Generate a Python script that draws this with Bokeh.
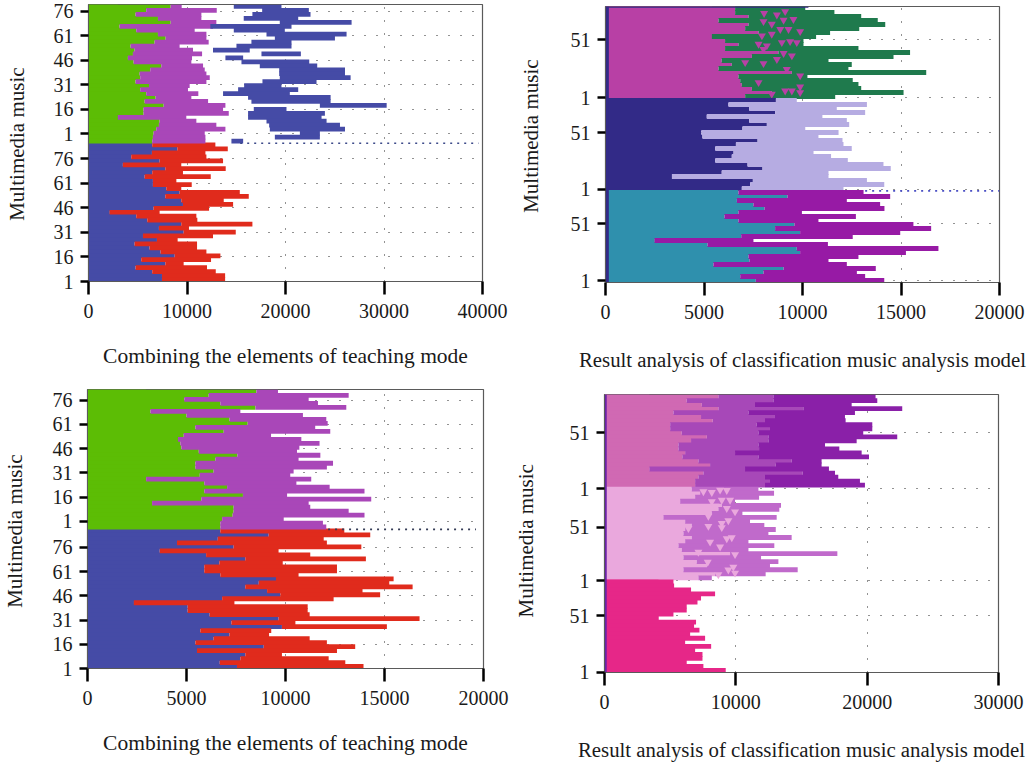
from bokeh.embed import file_html
from bokeh.resources import INLINE
from bokeh.plotting import figure
from bokeh.models import Title, FixedTicker, ColumnDataSource

FONT = "Liberation Serif"
Y_TITLE = "Multimedia music"
TITLE_A = "Combining the elements of teaching mode"
TITLE_B = "Result analysis of classification music analysis model"
LABELS_SIX = ["1", "16", "31", "46", "61", "76"]
LABELS_TWO = ["1", "51"]

# Panel A (top-left) values, rows listed top to bottom
a_green = [8340,5860,4780,7050,8340,3150,4850,7050,7830,6710,4270,4680,4510,4000,4580,7390,6270,5190,5250,4780,6140,5250,5860,6810,5700,7630,5590,5590,2980,7220,7150,6880,6610,6540,6470]
a_purple = [9460,13020,11460,11460,12980,12640,10780,11970,11970,12200,9250,10610,11530,10510,10440,11630,11800,11970,12310,11970,10270,10100,11150,10440,12140,13900,13660,14240,9930,10950,12980,13900,11800,11870,11870]
a_blue_start = [14750,17630,16640,15760,19420,12370,14750,18070,18920,16540,15020,12640,17560,13900,15530,17390,19360,19360,19420,17660,15800,15190,13660,16200,16540,23490,16780,16200,16200,18070,18340,18410,21460,18920,14510]
a_blue_end = [19590,22370,22540,21290,26710,20610,19930,26200,25020,20610,20610,16370,21560,15700,22410,23220,26040,26040,26610,23150,19590,21290,20440,24580,24580,30270,20100,24000,23660,24170,25530,26040,23490,23490,15700]
a_low_blue = [6470,9020,6440,4340,7220,3490,7800,6470,5700,6540,6540,7900,9250,7800,9420,9590,6610,2140,4850,5970,9420,7150,9660,5530,6950,4680,6200,7320,8750,5360,7800,4780,6470,7460,7460]
a_low_red = [12880,14140,11870,11970,13660,9420,13930,9590,12410,8920,10480,9420,15360,16270,13730,14680,12240,7220,10950,11050,16640,10200,14950,12640,9050,11020,11020,11970,13390,12440,9660,12030,12920,13870,13870]
a_seam = [15400, 39600]

# Panel B (top-right)
b_magenta = [6580,6580,7260,5740,7260,7090,7770,5400,6070,6750,6070,8780,7430,5900,6410,5740,9460,6750,6840,6920,7430,8440,7090]
b_green = [10140,11620,12980,13820,14200,12880,11400,10690,10050,10050,12840,15460,14620,11320,12500,12330,16280,10250,12550,12840,12980,15130,11660]
b_tri_x = [8050,8700,9120,9540,8020,8440,9040,8870,9290,9880,8440,7940,7770,8190,8950,9370,9710,8020,9040,9460,7090,8020,8700,9200,9880,7770,9120,9880,9460,8440,9880,660,1510,2270,4040,4470,5060]
b_tri_row = [1.2,1.6,0.75,2.7,3.25,3.9,2.9,5.2,5.2,5.75,6.4,6.8,8.9,9.3,8.5,8.25,8.5,10.2,11.2,11.8,13.5,13.75,12.7,15.2,16.8,18.5,20.6,19.6,20.6,21.4,21,22.7,22.7,22.7,22.7,22.7,22.7]
b_navy = [8650,6240,7290,8610,5140,7290,8190,6950,4860,4920,7720,6620,5570,6500,6410,5570,7210,7970,5900,3370,7480,7340,6920]
b_lavender = [9710,13270,11740,13180,11010,12250,12370,10140,11830,10810,12030,12080,12500,10560,11450,12300,14110,14480,11320,11320,13270,14150,12080]
b_teal = [6750,9240,6670,7510,8070,6750,6040,6750,9590,8610,9880,6890,2490,5180,9710,9880,7260,7310,5480,9040,8020,6840,7630]
b_violet = [13100,14450,12250,13940,14160,9970,12710,10810,15630,16530,14960,12550,7510,11290,16900,15250,12840,11320,12250,13720,12760,13180,14150]
b_seam = [13180, 20000]
b_top_strip = 10300

# Panel C (bottom-left)
c_green = [8530,6120,4890,6710,8480,3180,5000,7170,8090,5450,6880,4860,4570,4690,4740,5620,7570,6460,5450,5450,6370,5670,2960,5900,7050,5900,7850,5750,3260,7380,7380,7330,6800,6710,6710]
c_purple = [9620,13190,11170,11640,13070,7720,10880,12060,12130,11500,12260,9270,10800,11720,10700,10580,11760,10660,12400,12090,10410,10240,11300,10550,12230,13990,10080,14330,11170,11250,13190,13990,9910,11890,12060]
c_low_blue = [6710,9150,6580,4520,7380,3650,5990,7970,6660,5900,5900,6710,9520,8650,7970,9070,9740,6800,2340,5060,5060,6170,9650,7270,9820,5700,7170,6370,5450,8900,5530,7970,7720,6680,7550]
c_low_red = [12970,14280,11930,12090,13830,9650,11250,14060,9860,12600,12600,10660,15460,15240,16420,13890,14780,12430,7420,11120,11120,11220,16770,10500,15120,9280,9170,11220,12090,13520,12600,9820,12180,13020,13940]
c_seam = [12150, 19620]

# Panel D (bottom-right)
d_pink = [8670,6260,7410,8670,5250,7350,8240,5000,5000,5880,7790,6590,5630,5630,6140,5930,7150,8040,3420,7530,7150,6900,6900]
d_mid = [12860,12860,11460,15140,10960,12980,12220,11590,12600,11720,12480,12480,11720,11770,9940,11720,14250,13040,10700,15090,12220,12600,12220]
d_dark = [20640,20770,18820,22670,19070,18310,18360,20390,20390,19700,22290,19200,16790,17880,19580,20140,16530,16530,17090,17550,17800,19450,19830]
d_light = [6640,7280,6900,5760,8930,8670,8170,4490,6140,6640,6140,6010,6640,6140,5630,5880,9560,6010,7020,7790,6010,8420,7150]
d_orchid = [11720,12910,11770,9940,13440,13310,10500,13110,11080,12170,13040,12480,14250,10960,12930,10960,17730,11920,13240,12600,14710,12270,8170]
d_tri_x = [7530,8170,8800,9310,9560,8170,8930,9310,8420,9940,7910,9430,8930,6390,7910,8930,8040,8800,9310,9690,7150,9940,7860,9810,9430,8670,9940,860,1570,2330,4110]
d_tri_row = [0.6,0.8,0.2,0.3,2.7,3.1,2.7,4.75,4.2,5.6,6.7,7.8,8.5,9.75,9.2,9.5,13.1,14.3,12.25,12,15.6,16.2,18.1,19.3,20,21.2,20.8,22.6,22.6,22.6,22.6]
d_hot = [5250,5300,6590,8420,7350,7080,6260,6260,5250,4110,6970,6820,7230,6520,7660,6140,8120,6900,7460,7460,6260,7530,9230]

BORDER_LEFT = 130
BORDER_TOP = 4
BORDER_RIGHT = 29
BORDER_BOTTOM = 95


def make(xmax, xticks, ymax, tick_rows, tick_labels, frame_left, frame_top, fw, fh):
    px = frame_left - BORDER_LEFT
    py = frame_top - BORDER_TOP
    p = figure(frame_width=fw, frame_height=fh, x_range=(0, xmax), y_range=(0, ymax),
               output_backend="svg", toolbar_location=None,
               min_border_left=BORDER_LEFT, min_border_right=BORDER_RIGHT,
               min_border_top=BORDER_TOP, min_border_bottom=BORDER_BOTTOM,
               background_fill_color="white", border_fill_color=None,
               styles={"position": "absolute", "left": f"{px}px", "top": f"{py}px"})
    p.outline_line_color = "#5a5a5a"
    p.outline_line_width = 1.2
    for ax, ticks in ((p.xaxis[0], xticks), (p.yaxis[0], tick_rows)):
        ax.ticker = FixedTicker(ticks=ticks)
        ax.minor_tick_line_color = None
        ax.major_tick_line_color = "black"
        ax.major_tick_line_width = 2.5
        ax.major_tick_in = 0
        ax.axis_line_color = "#5a5a5a"
        ax.major_label_text_font = FONT
        ax.major_label_text_font_size = "20px"
        ax.major_label_text_color = "#1a1a1a"
    p.xaxis[0].major_tick_out = 13
    p.xaxis[0].major_label_standoff = 9
    p.xaxis[0].major_label_overrides = {t: str(t) for t in xticks}
    p.yaxis[0].major_tick_out = 8
    p.yaxis[0].major_label_standoff = 7
    p.yaxis[0].major_label_overrides = {r: s for r, s in zip(tick_rows, tick_labels)}
    p.xgrid[0].grid_line_color = "black"
    p.ygrid[0].grid_line_color = "black"
    p.xgrid[0].grid_line_dash = "1 12"
    p.ygrid[0].grid_line_dash = "1 11"
    p.xgrid[0].grid_line_alpha = 0.85
    p.ygrid[0].grid_line_alpha = 0.85
    return p


def bars(p, base, lefts, rights, color):
    n = len(rights)
    if not isinstance(lefts, list):
        # a solid backing block keeps the common part of the rows seamless
        p.hbar(y=[base + n / 2], left=[lefts], right=[min(rights)], height=n,
               fill_color=color, line_color=None)
        lefts = [lefts] * n
    src = ColumnDataSource(dict(y=[base + n - 1 - i + 0.5 for i in range(n)], l=lefts, r=rights))
    p.hbar(y="y", left="l", right="r", height=1.2, source=src, fill_color=color,
           line_color=None)


def marks(p, base, n, xs, rows, color, size=8):
    src = ColumnDataSource(dict(x=xs, y=[base + n - 0.5 - r for r in rows]))
    p.scatter("x", "y", source=src, marker="inverted_triangle", size=size,
              fill_color=color, line_color=None)


def seam(p, xs, row_pos, color):
    p.line(xs, [row_pos, row_pos], line_color=color, line_width=1.6, line_dash="2 5")


def captions(p, xtext, xsize, xstand, yoff, ystand):
    p.add_layout(Title(text=Y_TITLE, text_font=FONT, text_font_size="21px",
                       text_font_style="normal", text_color="#1a1a1a",
                       align="left", offset=yoff, standoff=ystand), "left")
    ax = p.xaxis[0]
    ax.axis_label = xtext
    ax.axis_label_text_font = FONT
    ax.axis_label_text_font_size = xsize
    ax.axis_label_text_font_style = "normal"
    ax.axis_label_text_color = "#1a1a1a"
    ax.axis_label_standoff = xstand


# ---------- panel A
rate = 35 / 84.6
up = 37.3
ticks_a = [(int(s) - 1) * rate for s in LABELS_SIX] + [up + (int(s) - 1) * rate for s in LABELS_SIX]
A = make(40000, [0, 10000, 20000, 30000, 40000], 70, ticks_a, LABELS_SIX * 2, 88, 4, 394, 277)
bars(A, 0, 0, a_low_blue, "#454ba6")
bars(A, 0, a_low_blue, a_low_red, "#e02b1c")
bars(A, 35, 0, a_green, "#5cbd05")
bars(A, 35, a_green, a_purple, "#a947b8")
bars(A, 35, a_blue_start, a_blue_end, "#454ba6")
seam(A, a_seam, 34.95, "#3d4a8a")
captions(A, TITLE_A, "21.5px", 23, 60.7, 44)

# ---------- panel B
ticks_b = [0.4, 14.7, 23.3, 37.5, 46.2, 60.7]
B = make(20000, [0, 5000, 10000, 15000, 20000], 69, ticks_b, LABELS_TWO * 3, 605, 6, 394, 276)
bars(B, 46, 0, b_magenta, "#b840a5")
bars(B, 46, b_magenta, b_green, "#1f7a4d")
marks(B, 46, 23, b_tri_x, b_tri_row, "#b840a5")
bars(B, 23, 0, b_navy, "#322a87")
bars(B, 23, b_navy, b_lavender, "#b6ace2")
bars(B, 0, 0, b_teal, "#2f90ad")
bars(B, 0, b_teal, b_violet, "#971aa5")
B.hbar(y=[34.5], left=[0], right=[170], height=69, fill_color="#322a87", line_color=None)
B.hbar(y=[68.85], left=[0], right=[b_top_strip], height=0.3, fill_color="#322a87", line_color=None)
seam(B, b_seam, 22.9, "#4a4fc4")
captions(B, TITLE_B, "20.8px", 26, 69.7, 50)

# ---------- panel C
rate = 6.08 / 15
up = 36.9
ticks_c = [(int(s) - 1) * rate for s in LABELS_SIX] + [up + (int(s) - 1) * rate for s in LABELS_SIX]
C = make(20000, [0, 5000, 10000, 15000, 20000], 70, ticks_c, LABELS_SIX * 2, 87, 389, 396, 279)
bars(C, 0, 0, c_low_blue, "#454ba6")
bars(C, 0, c_low_blue, c_low_red, "#e02b1c")
bars(C, 35, 0, c_green, "#5cbd05")
bars(C, 35, c_green, c_purple, "#a947b8")
seam(C, c_seam, 34.9, "#333a55")
captions(C, TITLE_A, "21.5px", 23, 60.7, 46)

# ---------- panel D
ticks_d = [0.1, 14.1, 22.8, 36.0, 45.6, 59.5]
D = make(30000, [0, 10000, 20000, 30000], 69, ticks_d, LABELS_TWO * 3, 604, 394, 394, 278)
bars(D, 46, 0, d_pink, "#d069b3")
bars(D, 46, d_pink, d_mid, "#a748b8")
bars(D, 46, d_mid, d_dark, "#8a20a8")
bars(D, 23, 0, d_light, "#eaa8dd")
bars(D, 23, d_light, d_orchid, "#c06acb")
marks(D, 23, 23, d_tri_x, d_tri_row, "#eaa8dd")
bars(D, 0, 0, d_hot, "#e62788")
D.hbar(y=[34.5], left=[0], right=[170], height=69, fill_color="#6a23a8", line_color=None)
captions(D, TITLE_B, "20.8px", 26, 55, 58)

open("out.html", "w").write(file_html((A, B, C, D), INLINE))
